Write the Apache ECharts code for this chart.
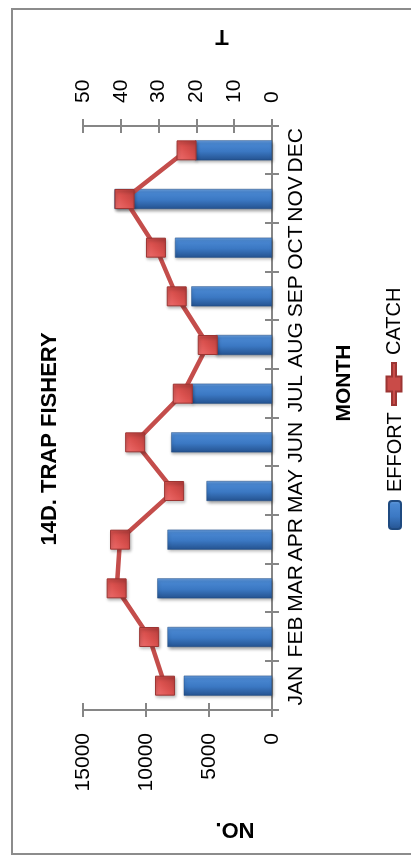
<!DOCTYPE html>
<html><head><meta charset="utf-8">
<script src="https://cdn.jsdelivr.net/npm/echarts@6/dist/echarts.min.js"></script>
<style>
html,body{margin:0;padding:0;width:411px;height:855px;overflow:hidden;background:#fff;}
#wrap{position:absolute;left:0;top:0;width:855px;height:411px;transform-origin:0 0;transform:translate(0,855px) rotate(-90deg);}
#chart{width:855px;height:411px;}
</style></head><body>
<div id="wrap"><div id="chart"></div></div>
<script>
const months = ['JAN','FEB','MAR','APR','MAY','JUN','JUL','AUG','SEP','OCT','NOV','DEC'];
const effort = [7000, 8300, 9100, 8300, 5200, 8000, 6400, 4500, 6400, 7700, 12500, 6100];
const catchValues = [28.3, 32.5, 41.1, 40.2, 25.9, 36.2, 23.6, 17.0, 25.2, 30.7, 39.0, 22.6];
const leftAxis = {min: 0, max: 15000, interval: 5000};
const rightAxis = {min: 0, max: 50, interval: 10};
const titleText = '14D. TRAP FISHERY';
const xTitle = 'MONTH';
const leftTitle = 'NO.';
const rightTitle = 'T';

const FONT = "'Liberation Sans', Arial, sans-serif";
const AX = '#868686';
const chart = echarts.init(document.getElementById('chart'), null, {renderer: 'canvas'});

const barColor = new echarts.graphic.LinearGradient(0, 0, 1, 0, [
  {offset: 0, color: '#24528f'},
  {offset: 0.45, color: '#3b78c3'},
  {offset: 0.85, color: '#4a88d2'},
  {offset: 1, color: '#6b9fdc'}
]);
const markColor = new echarts.graphic.LinearGradient(0, 0, 1, 1, [
  {offset: 0, color: '#f07070'},
  {offset: 0.5, color: '#d9504d'},
  {offset: 1, color: '#b23c3a'}
]);
const catchIcon = 'path://M0,5.5L13.5,5.5L13.5,0L28.5,0L28.5,5.5L42,5.5L42,9.5L28.5,9.5L28.5,15L13.5,15L13.5,9.5L0,9.5Z';

function valAxis(pos, cfg, main) {
  return {
    type: 'value', position: pos, min: cfg.min, max: cfg.max, interval: cfg.interval,
    splitLine: {show: false},
    axisLine: {show: main, lineStyle: {color: AX, width: 2}},
    axisTick: {show: true, inside: !main, length: 7, lineStyle: {color: AX, width: 2}},
    axisLabel: {show: main, margin: 23, color: '#000', fontSize: 21, fontFamily: FONT,
                formatter: function (v) { return String(v); }}
  };
}
function catAxis(main) {
  return {
    type: 'category', position: 'bottom', data: months,
    axisLine: {show: main, lineStyle: {color: AX, width: 2}},
    axisTick: {show: true, inside: !main, length: 7, lineStyle: {color: AX, width: 2}},
    axisLabel: {show: main, interval: 0, margin: 14, color: '#000', fontSize: 21, fontFamily: FONT}
  };
}

chart.setOption({
  animation: false,
  backgroundColor: '#fff',
  textStyle: {fontFamily: FONT},
  grid: {left: 145, right: 126, top: 83, bottom: 139, containLabel: false},
  xAxis: [catAxis(true), catAxis(false)],
  yAxis: [valAxis('left', leftAxis, true), valAxis('right', rightAxis, true),
          valAxis('left', leftAxis, false), valAxis('right', rightAxis, false)],
  legend: [
    {data: ['EFFORT'], left: 320, top: 380, itemWidth: 28, itemHeight: 12, itemGap: 0,
     textStyle: {fontSize: 20, color: '#000', fontFamily: FONT, padding: [0, 0, 0, 4]}},
    {data: [{name: 'CATCH', icon: catchIcon, itemStyle: {color: '#c94b48'}}],
     left: 444, top: 379, itemWidth: 42, itemHeight: 15, itemGap: 0,
     textStyle: {fontSize: 20, color: '#000', fontFamily: FONT, padding: [0, 0, 0, 3]}}
  ],
  graphic: [
    {type: 'rect', silent: true, shape: {x: 1, y: 12, width: 845, height: 420},
     style: {fill: 'none', stroke: '#8c8c8c', lineWidth: 2}},
    {type: 'text', x: 416, y: 50, silent: true,
     style: {text: titleText, font: 'bold 22px ' + FONT, fill: '#000', textAlign: 'center', textVerticalAlign: 'middle'}},
    {type: 'text', x: 472, y: 344, silent: true,
     style: {text: xTitle, font: 'bold 21px ' + FONT, fill: '#000', textAlign: 'center', textVerticalAlign: 'middle'}},
    {type: 'text', x: 26, y: 235, rotation: Math.PI / 2, silent: true,
     style: {text: leftTitle, font: 'bold 22px ' + FONT, fill: '#000', textAlign: 'center', textVerticalAlign: 'middle'}},
    {type: 'text', x: 819, y: 222, rotation: Math.PI / 2, silent: true,
     style: {text: rightTitle, font: 'bold 22px ' + FONT, fill: '#000', textAlign: 'center', textVerticalAlign: 'middle'}}
  ],
  series: [
    {name: 'EFFORT', type: 'bar', xAxisIndex: 0, yAxisIndex: 0, data: effort, barWidth: 20,
     itemStyle: {color: barColor, borderColor: '#1f4a80', borderWidth: 0.5,
                 shadowColor: 'rgba(0,0,0,0.35)', shadowBlur: 3, shadowOffsetX: -2, shadowOffsetY: 1}},
    {name: 'CATCH', type: 'line', xAxisIndex: 0, yAxisIndex: 1, data: catchValues, z: 5,
     symbol: 'rect', symbolSize: 19,
     lineStyle: {color: '#c44d4b', width: 4.5},
     itemStyle: {color: markColor, borderColor: '#9c3533', borderWidth: 1,
                 shadowColor: 'rgba(0,0,0,0.3)', shadowBlur: 3, shadowOffsetX: -2, shadowOffsetY: 1}}
  ]
});
</script>
</body></html>
